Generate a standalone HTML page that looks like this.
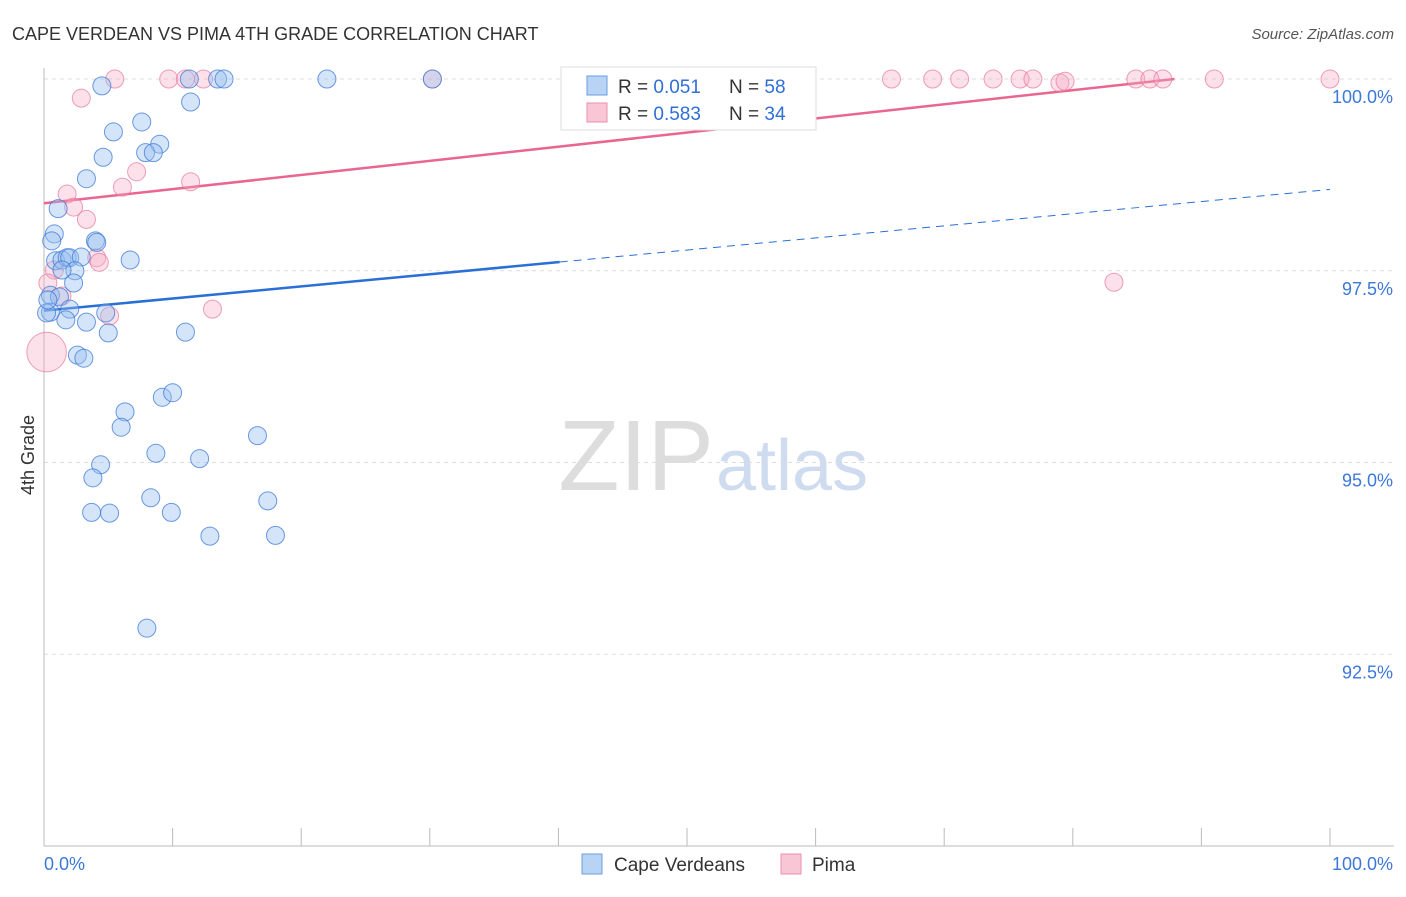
<!DOCTYPE html>
<html><head><meta charset="utf-8"><style>
body{margin:0;background:#fff;font-family:"Liberation Sans",sans-serif}
svg text{font-family:"Liberation Sans",sans-serif}
</style></head><body>
<svg id="c" width="1406" height="892" xmlns="http://www.w3.org/2000/svg">
<text x="12" y="40" font-size="18" fill="#333">CAPE VERDEAN VS PIMA 4TH GRADE CORRELATION CHART</text>
<text x="1394" y="39" font-size="15" fill="#555" text-anchor="end" font-style="italic">Source: ZipAtlas.com</text>
<text x="714" y="490" font-size="100" fill="#ddd" text-anchor="end" font-family="Liberation Serif">ZIP</text>
<text x="716" y="490" font-size="72" fill="#cfdcf0">atlas</text>
<text x="34" y="455" font-size="18" fill="#333" text-anchor="middle" transform="rotate(-90 34 455)">4th Grade</text>
<g id="grid"></g><g id="axes"></g><g id="trend"></g><g id="pts"></g>
<g>
<rect x="561" y="67" width="255" height="63" fill="#fff" stroke="#ddd"/>
<rect x="587" y="76" width="20" height="19" fill="#b9d3f5" stroke="#6a9de0"/>
<text x="618" y="93" font-size="19" fill="#333">R = <tspan fill="#2f6fd6">0.051</tspan><tspan x="729">N = </tspan><tspan fill="#2f6fd6">58</tspan></text>
<rect x="587" y="103" width="20" height="19" fill="#f9c6d5" stroke="#ec8fac"/>
<text x="618" y="120" font-size="19" fill="#333">R = <tspan fill="#2f6fd6">0.583</tspan><tspan x="729">N = </tspan><tspan fill="#2f6fd6">34</tspan></text>
</g>
<g>
<rect x="582" y="854" width="20" height="20" fill="#b9d3f5" stroke="#6a9de0"/>
<text x="614" y="871" font-size="19" fill="#333">Cape Verdeans</text>
<rect x="781" y="854" width="20" height="20" fill="#f9c6d5" stroke="#ec8fac"/>
<text x="812" y="871" font-size="19" fill="#333">Pima</text>
</g>
</svg>
<script>
const yTicks=[100,97.5,95,92.5];
const yTickLabels=["100.0%","97.5%","95.0%","92.5%"];
const xEndLabels=["0.0%","100.0%"];
const blueX=[4.5,11.3,13.5,14.0,22.0,30.2,11.4,5.4,7.6,9.0,7.9,8.5,4.6,3.3,1.1,0.8,0.6,4.0,4.1,0.9,1.4,1.8,2.0,2.9,6.7,2.4,0.5,1.2,2.3,2.0,1.7,3.3,5.0,4.8,11.0,0.5,2.6,3.1,9.2,10.0,6.3,6.0,16.6,8.7,12.1,4.4,3.8,8.3,17.4,3.7,5.1,9.9,12.9,18.0,8.0,0.2,0.3,1.4];
const blueY=[99.91,100,100,100,100,100,99.70,99.31,99.44,99.15,99.04,99.04,98.98,98.70,98.31,97.98,97.89,97.89,97.87,97.63,97.64,97.67,97.67,97.68,97.64,97.50,97.18,97.16,97.34,97.00,96.86,96.83,96.69,96.95,96.70,96.96,96.40,96.36,95.85,95.91,95.66,95.46,95.35,95.12,95.05,94.97,94.80,94.54,94.50,94.35,94.34,94.35,94.04,94.05,92.84,96.95,97.12,97.51];
const pinkX=[5.5,9.7,11.0,12.4,30.2,65.9,69.1,71.2,73.8,75.9,76.9,79.0,79.4,84.9,86.0,87.0,91.0,100,2.9,1.8,2.3,3.3,6.1,7.2,11.4,4.1,4.3,0.8,1.4,5.1,13.1,83.2,0.2,0.3];
const pinkY=[100,100,100,100,100,100,100,100,100,100,100,99.95,99.97,100,100,100,100,100,99.75,98.50,98.33,98.17,98.59,98.79,98.66,97.67,97.61,97.51,97.17,96.91,97.00,97.35,96.44,97.34];
const pinkSize=[1,1,1,1,1,1,1,1,1,1,1,1,1,1,1,1,1,1,1,1,1,1,1,1,1,1,1,1,1,1,1,1,2.2,1];
const blueTrend=[96.98,98.56], blueSolidEnd=40.1;
const pinkTrend=[98.38,100], pinkEnd=87.9;
const NS="http://www.w3.org/2000/svg";
const X=v=>44+v*12.86, Y=v=>79+(100-v)*76.7;
function mk(t,a,p){const e=document.createElementNS(NS,t);for(const k in a)e.setAttribute(k,a[k]);p.appendChild(e);return e;}
const grid=document.getElementById('grid'),axes=document.getElementById('axes'),tr=document.getElementById('trend'),pts=document.getElementById('pts');
yTicks.forEach((t,i)=>{
 const l=mk('line',{x1:44,x2:1394,y1:Y(t),y2:Y(t),stroke:'#ddd','stroke-dasharray':'4,4'},grid);
 
 
 const tx=mk('text',{x:1393,y:Y(t)+24,'font-size':18,fill:'#3c78d8','text-anchor':'end'},grid);
 tx.textContent=yTickLabels[i];
 
 
});
const ya=mk('line',{x1:44,x2:44,y1:68,y2:846,stroke:'#bbb'},axes);


const xa=mk('line',{x1:44,x2:1394,y1:846,y2:846,stroke:'#bbb'},axes);


for(let i=1;i<=10;i++){const t=mk('line',{x1:X(i*10),x2:X(i*10),y1:828,y2:846,stroke:'#bbb'},axes);
 
 }
[[0,'start'],[100,'end']].forEach((d,i)=>{const t=mk('text',{x:i?1393:44,y:870,'font-size':18,fill:'#3c78d8','text-anchor':d[1]},axes);t.textContent=xEndLabels[i];
 
 });
const by=x=>blueTrend[0]+(blueTrend[1]-blueTrend[0])*x/100;
let l1=mk('line',{x1:X(0),y1:Y(by(0)),x2:X(blueSolidEnd),y2:Y(by(blueSolidEnd)),stroke:'#2a6fd6','stroke-width':2.5},tr);


let l2=mk('line',{x1:X(blueSolidEnd),y1:Y(by(blueSolidEnd)),x2:X(100),y2:Y(by(100)),stroke:'#2a6fd6','stroke-width':1,'stroke-dasharray':'8,6'},tr);


let l3=mk('line',{x1:X(0),y1:Y(pinkTrend[0]),x2:X(pinkEnd),y2:Y(pinkTrend[1]),stroke:'#e8668f','stroke-width':2.5},tr);


pinkX.forEach((x,i)=>{const c=mk('circle',{cx:X(x),cy:Y(pinkY[i]),r:9*pinkSize[i],fill:'rgba(246,170,195,0.35)',stroke:'rgba(232,120,155,0.7)','stroke-width':1},pts);
 
 });
blueX.forEach((x,i)=>{const c=mk('circle',{cx:X(x),cy:Y(blueY[i]),r:9,fill:'rgba(150,190,240,0.4)',stroke:'rgba(60,120,215,0.75)','stroke-width':1},pts);
 
 });
</script>
</body></html>
